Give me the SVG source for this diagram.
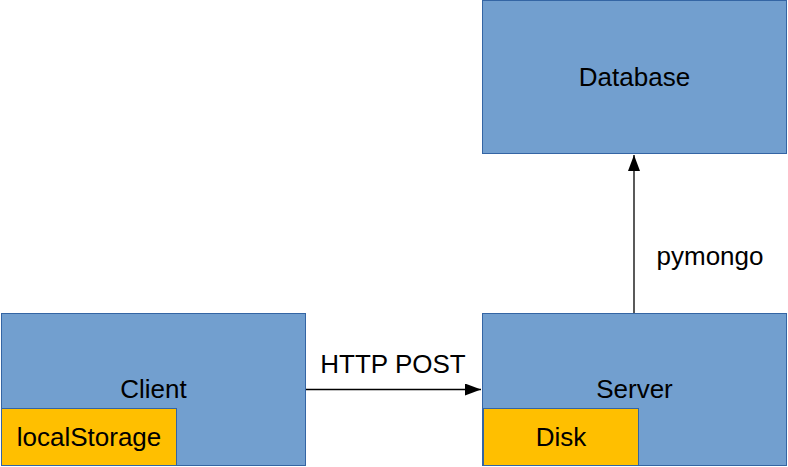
<svg xmlns="http://www.w3.org/2000/svg" width="788" height="467" viewBox="0 0 788 467">
<style>
.box{fill:#729fcf;stroke:#3465a4;stroke-width:1}
.sub{fill:#ffbf00;stroke:#3465a4;stroke-width:1}
text{font-family:"Liberation Sans",Arial,sans-serif;font-size:26px;fill:#000;text-anchor:middle}
.conn{stroke:#000;stroke-width:1.3;fill:none}
</style>
<defs>
<marker id="arr" markerWidth="16" markerHeight="12" refX="16" refY="6" orient="auto" markerUnits="userSpaceOnUse">
<path d="M0,0 L16,6 L0,12 Z" fill="#000"/>
</marker>
</defs>
<rect width="788" height="467" fill="#fff"/>
<g id="database">
<rect class="box" x="482.5" y="0.5" width="304" height="153"/>
<text x="634.5" y="86">Database</text>
</g>
<g id="client">
<rect class="box" x="1.5" y="313.5" width="304" height="152"/>
<text x="153.5" y="398">Client</text>
<g id="localStorage">
<rect class="sub" x="1.5" y="408.5" width="175" height="57"/>
<text x="89" y="446">localStorage</text>
</g>
</g>
<g id="server">
<rect class="box" x="482.5" y="313.5" width="304" height="152"/>
<text x="634.5" y="398">Server</text>
<g id="disk">
<rect class="sub" x="483.5" y="408.5" width="155" height="57"/>
<text x="561" y="446">Disk</text>
</g>
</g>
<g id="connectors">
<line class="conn" x1="306" y1="389.5" x2="481" y2="389.5" marker-end="url(#arr)"/>
<text x="393" y="373">HTTP POST</text>
<line class="conn" x1="634" y1="313" x2="634" y2="155" marker-end="url(#arr)"/>
<text x="710" y="265">pymongo</text>
</g>
</svg>
